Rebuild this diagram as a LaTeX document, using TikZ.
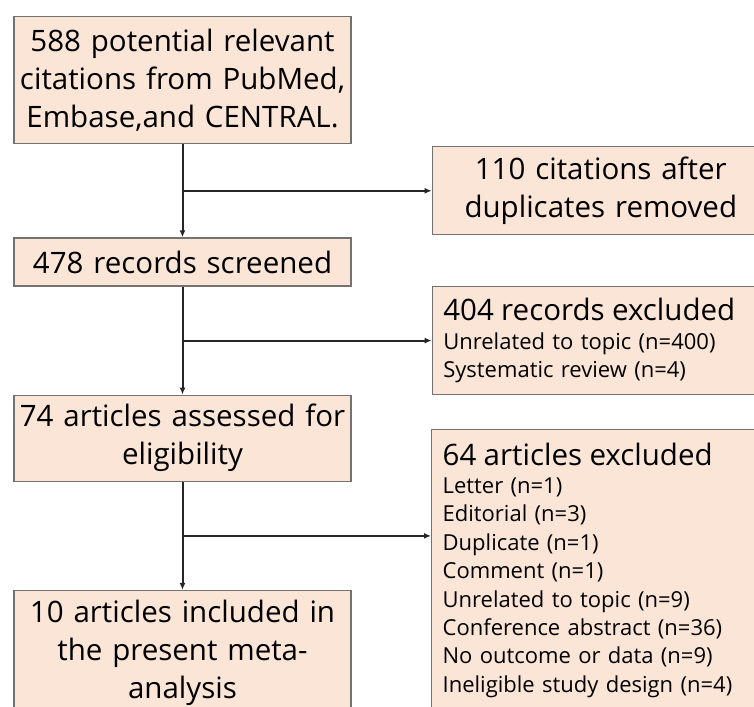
\documentclass[tikz,border=0pt]{standalone}
\usepackage{fontspec}
\setmainfont{Open Sans}
\usetikzlibrary{arrows.meta, positioning, calc}
\definecolor{boxfill}{HTML}{FBE5D6}
\definecolor{boxline}{HTML}{767171}
\newcommand{\bigsize}{\fontsize{29.5}{38}\selectfont}
\newcommand{\itemsize}{\fontsize{22}{28.4}\selectfont}
\tikzset{
  stage/.style={draw=boxline, fill=boxfill, line width=1.3pt, inner xsep=4pt, inner ysep=6pt,
    text width=329pt, align=center, font=\bigsize},
  excl/.style={draw=boxline, fill=boxfill, line width=1.3pt, inner xsep=11pt, inner ysep=9pt,
    text width=315pt, align=left, font=\itemsize},
  pto/.style={-{Latex[length=7pt,width=6pt]}, line width=2pt, black!85}
}

\begin{document}
\begin{tikzpicture}[x=1pt, y=-1pt, node distance=108pt]
  \useasboundingbox (0,0) rectangle (754,706);

  % main flow
  \node[stage, minimum height=127pt, anchor=north] (ident) at (182.5,16)
    {588 potential relevant\\citations from PubMed,\\Embase,and CENTRAL.};
  \node[stage, minimum height=48pt, below=93pt of ident] (screen) {478 records screened};
  \node[stage, minimum height=86pt, below=of screen] (elig) {74 articles assessed for\\eligibility};
  \node[stage, minimum height=124pt, below=of elig] (incl)
    {10 articles included in\\the present meta-\\analysis};

  \coordinate (m1) at ($(ident.south)!0.5!(screen.north)$);
  \coordinate (m2) at ($(screen.south)!0.5!(elig.north)$);
  \coordinate (m3) at ($(elig.south)!0.5!(incl.north)$);

  % exclusions
  \node[stage, minimum height=88pt, anchor=west] (dup) at ($(m1 -| ident.east)+(80,0)$)
    {110 citations after\\duplicates removed};
  \node[excl, minimum height=108pt, anchor=west] (exrec) at ($(m2 -| ident.east)+(80,0)$)
    {{\bigsize 404 records excluded}\\Unrelated to topic (n=400)\\Systematic review (n=4)};
  \node[excl, inner ysep=13pt, anchor=north west] (exart) at (431,429)
    {{\bigsize 64 articles excluded}\\Letter (n=1)\\Editorial (n=3)\\Duplicate (n=1)\\Comment (n=1)\\
     Unrelated to topic (n=9)\\Conference abstract (n=36)\\No outcome or data (n=9)\\
     Ineligible study design (n=4)};

  \draw[pto] (ident) -- (screen);
  \draw[pto] (screen) -- (elig);
  \draw[pto] (elig) -- (incl);

  \draw[pto] (m1) -- (m1 -| dup.west);
  \draw[pto] (m2) -- (m2 -| exrec.west);
  \draw[pto] (m3) -- (m3 -| exart.west);
\end{tikzpicture}
\end{document}
